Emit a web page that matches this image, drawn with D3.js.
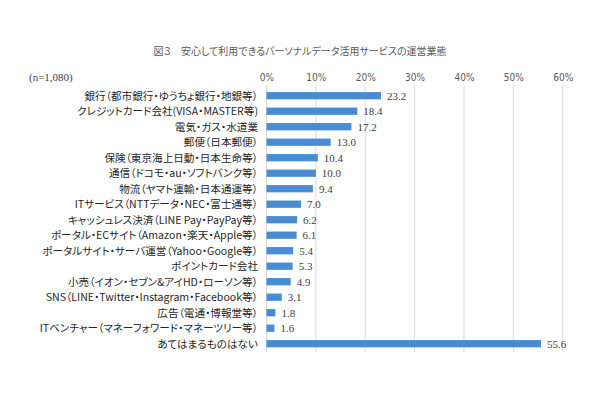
<!DOCTYPE html>
<html><head><meta charset="utf-8">
<script src="https://cdn.jsdelivr.net/npm/d3@7"></script>
<style>
html,body{margin:0;padding:0;background:#fff;}
svg{display:block;}
</style></head>
<body>
<svg id="chart" width="600" height="399"></svg>
<script>
const categories = [
  "銀行（都市銀行・ゆうちょ銀行・地銀等）",
  "クレジットカード会社(VISA・MASTER等)",
  "電気・ガス・水道業",
  "郵便（日本郵便）",
  "保険（東京海上日動・日本生命等）",
  "通信（ドコモ・au・ソフトバンク等）",
  "物流（ヤマト運輸・日本通運等）",
  "ITサービス（NTTデータ・NEC・富士通等）",
  "キャッシュレス決済（LINE Pay・PayPay等）",
  "ポータル・ECサイト（Amazon・楽天・Apple等）",
  "ポータルサイト・サーバ運営（Yahoo・Google等）",
  "ポイントカード会社",
  "小売（イオン・セブン&アイHD・ローソン等）",
  "SNS（LINE・Twitter・Instagram・Facebook等）",
  "広告（電通・博報堂等）",
  "ITベンチャー（マネーフォワード・マネーツリー等）",
  "あてはまるものはない"
];
const values = [23.2, 18.4, 17.2, 13.0, 10.4, 10.0, 9.4, 7.0, 6.2, 6.1, 5.4, 5.3, 4.9, 3.1, 1.8, 1.6, 55.6];
const tickValues = [0, 10, 20, 30, 40, 50, 60];
const titleText = "図３　安心して利用できるパーソナルデータ活用サービスの運営業態";
const sampleText = "(n=1,080)";

const svg = d3.select("#chart");
const jp = "'Noto Sans CJK JP','Noto Sans',sans-serif";

const x = d3.scaleLinear().domain([0, 60]).range([266.5, 562.7]);
const y = d3.scaleBand().domain(categories).range([87.95, 351.45])
  .paddingInner(0.53).paddingOuter(0.265);

// title
svg.append("text").attr("x", 300).attr("y", 55).attr("text-anchor", "middle")
  .style("font-family", jp).style("font-size", "10px").style("fill", "#595959")
  .style("font-feature-settings", "'palt'")
  .text(titleText);

// n label
svg.append("text").attr("x", 29).attr("y", 81)
  .style("font-family", "'Liberation Serif',serif").style("font-size", "11px").style("fill", "#404040")
  .text(sampleText);

// gridlines
svg.append("g").selectAll("line").data(tickValues).join("line")
  .attr("x1", d => x(d)).attr("x2", d => x(d))
  .attr("y1", 85).attr("y2", 352)
  .attr("stroke", "#d9d9d9").attr("stroke-width", 1);

// top axis labels
const axis = d3.axisTop(x).tickValues(tickValues).tickFormat(d => d + "%").tickSize(0).tickPadding(0);
const ag = svg.append("g").attr("transform", "translate(0,81)").call(axis);
ag.select(".domain").remove();
ag.selectAll("text").attr("dy", 0)
  .style("font-family", "'Liberation Sans Narrow','DejaVu Sans Condensed',sans-serif")
  .style("font-size", "10px").style("fill", "#595959");

// bars
svg.append("g").selectAll("rect").data(values).join("rect")
  .attr("x", x(0))
  .attr("y", (d, i) => y(categories[i]))
  .attr("width", d => x(d) - x(0))
  .attr("height", y.bandwidth())
  .attr("fill", "#4A8CD2");

// category labels
svg.append("g").selectAll("text").data(categories).join("text")
  .attr("x", 258)
  .attr("y", d => y(d) + y.bandwidth() / 2)
  .attr("dy", "0.36em")
  .attr("text-anchor", "end")
  .style("font-family", jp).style("font-size", "10.6px").style("fill", "#262626")
  .style("font-feature-settings", "'palt'")
  .text(d => d);

// value labels
svg.append("g").selectAll("text").data(values).join("text")
  .attr("x", d => x(d) + 6)
  .attr("y", (d, i) => y(categories[i]) + y.bandwidth() / 2)
  .attr("dy", "0.36em")
  .style("font-family", "'Liberation Serif',serif").style("font-size", "11px").style("fill", "#404040")
  .text(d => d3.format(".1f")(d));
</script>
</body></html>
